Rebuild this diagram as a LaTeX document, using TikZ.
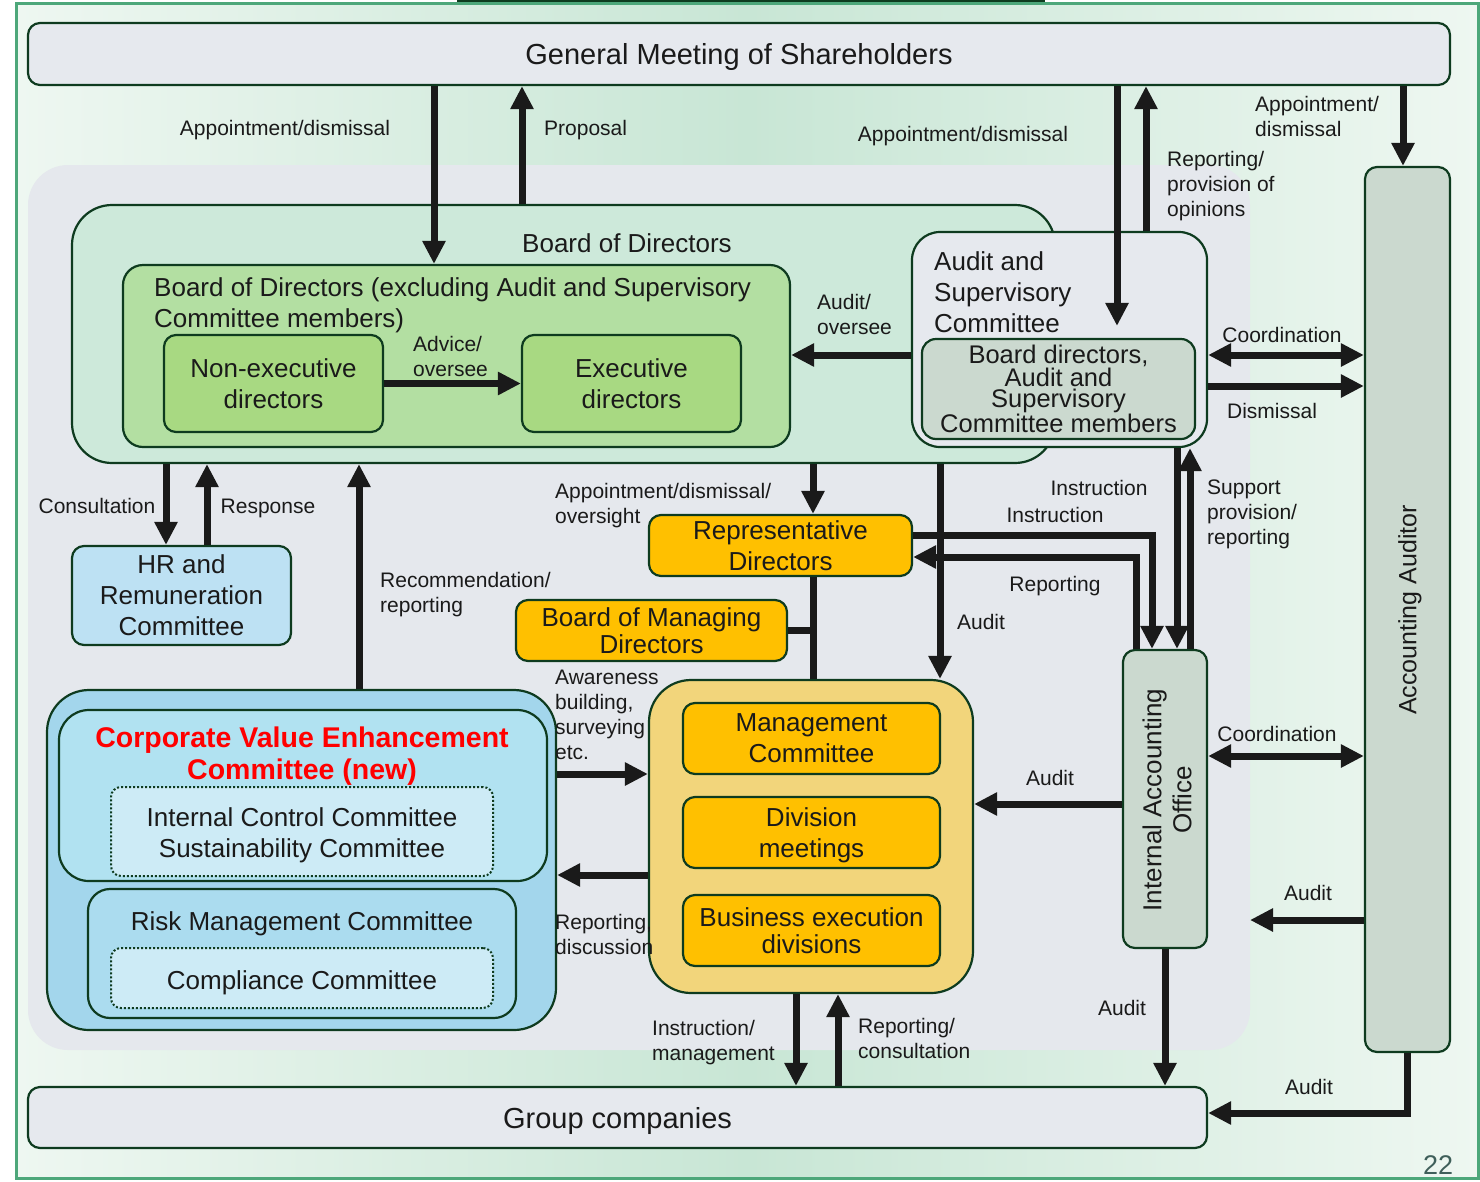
\documentclass[tikz,border=0pt]{standalone}
\usepackage{fontspec}
\setmainfont{Liberation Sans}
\usetikzlibrary{arrows.meta}

\definecolor{bgedge}{HTML}{EEF7F1}
\definecolor{bgmid}{HTML}{C8E6D5}
\definecolor{framegreen}{HTML}{4DA77A}
\definecolor{boxline}{HTML}{0E3B1F}
\definecolor{greyarea}{HTML}{E5E8ED}
\definecolor{greybox}{HTML}{E6E9EE}
\definecolor{bodfill}{HTML}{CDE9DA}
\definecolor{bodxfill}{HTML}{B3DFA2}
\definecolor{dirfill}{HTML}{A8D982}
\definecolor{sagefill}{HTML}{CBD9CF}
\definecolor{hrfill}{HTML}{BDE1F3}
\definecolor{cvofill}{HTML}{A3D6EC}
\definecolor{cvtfill}{HTML}{B1E2F1}
\definecolor{dotfill}{HTML}{CDEBF6}
\definecolor{rmfill}{HTML}{ABDCEF}
\definecolor{orangefill}{HTML}{FFC000}
\definecolor{mgofill}{HTML}{F2D57B}
\definecolor{arrowc}{HTML}{1A1A1A}
\definecolor{textc}{HTML}{1A1A1A}
\definecolor{pagec}{HTML}{3F5F5A}

\newcommand{\bxfont}{\fontsize{26}{31}\selectfont}
\newcommand{\lbfont}{\fontsize{21}{25}\selectfont}
\newcommand{\gmfont}{\fontsize{29}{34}\selectfont}

\tikzset{
  box/.style={draw=boxline, line width=2.2pt, rounded corners=12pt, inner sep=2pt, align=center, font=\bxfont, text=textc},
  dotbox/.style={box, line width=2pt, dotted, rounded corners=10pt, fill=dotfill},
  arr/.style={draw=arrowc, line width=7pt, -{Triangle[width=22pt,length=23pt]}},
  dblarr/.style={draw=arrowc, line width=7pt, {Triangle[width=22pt,length=23pt]}-{Triangle[width=22pt,length=23pt]}},
  link/.style={draw=arrowc, line width=7pt},
  lbl/.style={font=\lbfont, align=left, inner sep=0pt, text=textc},
  ttl/.style={font=\bxfont, align=left, inner sep=0pt, text=textc},
}

\begin{document}
\begin{tikzpicture}[x=1pt,y=-1pt]
            \useasboundingbox (0,0) rectangle (1480,1181);
            \shade[left color=bgedge, right color=bgedge, middle color=bgmid] (16,3) rectangle (1478,1178);
            \draw[framegreen, line width=3pt] (16,3) rectangle (1478,1178);
            \fill[boxline] (457,0) rectangle (1045,2);
            \fill[greyarea, rounded corners=40pt] (28,165) rectangle (1250,1050);

            \node[box, fill=greybox, text depth=0pt, minimum width=1422pt, minimum height=62pt, font=\gmfont] (gm) at (739,54) {General Meeting of Shareholders};
            \node[box, fill=greybox, text depth=0pt, minimum width=1179pt, minimum height=61pt, font=\gmfont] (grp) at (617.5,1117.5) {Group companies};

            \node[box, fill=bodfill, rounded corners=40pt, minimum width=983pt, minimum height=258pt] (bod) at (563.5,334) {};
            \node[ttl] (bodt) at (627,243) {Board of Directors};
            \node[box, fill=bodxfill, rounded corners=20pt, minimum width=667pt, minimum height=182pt] (bodx) at (456.5,356) {};
            \node[ttl, anchor=north west] (bodxt) at (154,277) {Board of Directors (excluding Audit and Supervisory\\Committee members)};
            \node[box, fill=dirfill, minimum width=219pt, minimum height=97pt] (ned) at (273.5,383.5) {Non-executive\\directors};
            \node[box, fill=dirfill, minimum width=219pt, minimum height=97pt] (exd) at (631.5,383.5) {Executive\\directors};

            \node[box, fill=greybox, rounded corners=28pt, minimum width=295pt, minimum height=215pt] (asc) at (1059.5,339.5) {};
            \node[ttl, anchor=north west] (asct) at (934,251) {Audit and\\Supervisory\\Committee};
            \node[box, fill=sagefill, rounded corners=14pt, inner sep=0pt, minimum width=273pt, minimum height=100pt, font=\fontsize{25.5}{21.5}\selectfont] (ascm) at (1058.5,389) {Board directors,\\Audit and\\Supervisory\\Committee members};

            \node[box, fill=sagefill, minimum width=85pt, minimum height=885pt] (aud) at (1407.5,609.5) {};
            \node[ttl, rotate=90, font=\fontsize{25}{30}\selectfont] (audt) at (1410,610) {Accounting Auditor};

            \node[box, fill=hrfill, minimum width=219pt, minimum height=99pt] (hr) at (181.5,595.5) {HR and\\Remuneration\\Committee};

            \node[box, fill=orangefill, minimum width=263pt, minimum height=61pt] (rep) at (780.5,545.5) {Representative\\Directors};
            \node[box, fill=orangefill, minimum width=271pt, minimum height=61pt, font=\fontsize{26}{27}\selectfont] (bmd) at (651.5,630.5) {Board of Managing\\Directors};

            \node[box, fill=mgofill, rounded corners=42pt, minimum width=324pt, minimum height=313pt] (mgo) at (811,836.5) {};
            \node[box, fill=orangefill, text depth=0pt, minimum width=257pt, minimum height=71pt] (mc) at (811.5,738.5) {Management\\Committee};
            \node[box, fill=orangefill, text depth=0pt, minimum width=257pt, minimum height=71pt] (dm) at (811.5,832.5) {Division\\meetings};
            \node[box, fill=orangefill, text depth=0pt, minimum width=257pt, minimum height=71pt, font=\fontsize{26}{27}\selectfont] (bed) at (811.5,930.5) {Business execution\\divisions};

            \node[box, fill=sagefill, minimum width=84pt, minimum height=298pt] (iao) at (1165,799) {};
            \node[ttl, rotate=90, align=center, font=\fontsize{26}{30}\selectfont] (iaot) at (1167,800) {Internal Accounting\\Office};

            \node[box, fill=cvofill, rounded corners=42pt, minimum width=509pt, minimum height=340pt] (cvo) at (301.5,860) {};
            \node[box, fill=cvtfill, rounded corners=30pt, minimum width=488pt, minimum height=171pt] (cvt) at (303,795.5) {};
            \node[ttl, align=center, text=red, font=\fontsize{28.5}{32}\selectfont\bfseries] (cvtt) at (302,756) {Corporate Value Enhancement\\Committee (new)};
            \node[dotbox, minimum width=382pt, minimum height=89pt] (icd) at (302,831.5) {};
            \node[ttl, align=center] (icdt) at (302,835) {Internal Control Committee\\Sustainability Committee};
            \node[box, fill=rmfill, rounded corners=22pt, minimum width=428pt, minimum height=129pt] (rmc) at (302,953.5) {};
            \node[ttl] (rmct) at (302,924) {Risk Management Committee};
            \node[dotbox, minimum width=382pt, minimum height=60pt] (ccd) at (302,978) {};
            \node[ttl] (ccdt) at (302,983) {Compliance Committee};

            \coordinate (audfree) at (1250,920);

            \draw[arr] (434,0 |- gm.south) -- (434,0 |- bodx.north);
            \draw[arr] (522,0 |- bod.north) -- (522,0 |- gm.south);
            \draw[arr, shorten >=12pt] (1117,0 |- gm.south) -- (1117,0 |- ascm.north);
            \draw[arr] (1146,0 |- asc.north) -- (1146,0 |- gm.south);
            \draw[arr] (1403,0 |- gm.south) -- (1403,0 |- aud.north);
            \draw[arr] (asc.west |- 0,355) -- (bodx.east |- 0,355);
            \draw[arr] (ned.east) -- (exd.west);
            \draw[dblarr] (asc.east |- 0,355) -- (aud.west |- 0,355);
            \draw[arr] (asc.east |- 0,386) -- (aud.west |- 0,386);
            \draw[arr] (166,0 |- bod.south) -- (166,0 |- hr.north);
            \draw[arr] (207,0 |- hr.north) -- (207,0 |- bod.south);
            \draw[arr] (359,0 |- cvo.north) -- (359,0 |- bod.south);
            \draw[arr] (813,0 |- bod.south) -- (813,0 |- rep.north);
            \draw[link] (813,0 |- rep.south) -- (813,0 |- mgo.north);
            \draw[link] (bmd.east) -- (813,0 |- bmd.east);
            \draw[arr] (940,0 |- bod.south) -- (940,0 |- mgo.north);
            \draw[arr] (rep.east |- 0,535) -- (1152,535) -- (1152,0 |- iao.north);
            \draw[arr] (1136,0 |- iao.north) -- (1136,557) -- (rep.east |- 0,557);
            \draw[arr] (1177,0 |- asc.south) -- (1177,0 |- iao.north);
            \draw[arr] (1190,0 |- iao.north) -- (1190,0 |- asc.south);
            \draw[dblarr] (iao.east |- 0,756) -- (aud.west |- 0,756);
            \draw[arr] (iao.west |- 0,804) -- (mgo.east |- 0,804);
            \draw[arr] (aud.west |- audfree) -- (audfree);
            \draw[arr] (iao.south) -- (iao.south |- grp.north);
            \draw[arr] (aud.south) -- (aud.south |- 0,1113) -- (grp.east |- 0,1113);
            \draw[arr] (796,0 |- mgo.south) -- (796,0 |- grp.north);
            \draw[arr] (838,0 |- grp.north) -- (838,0 |- mgo.south);
            \draw[arr] (cvo.east |- 0,774) -- (mgo.west |- 0,774);
            \draw[arr] (mgo.west |- 0,875) -- (cvo.east |- 0,875);

            \node[lbl] (l1) at (285,130) {Appointment/dismissal};
            \node[lbl, anchor=west] (l2) at (544,130) {Proposal};
            \node[lbl] (l3) at (963,136) {Appointment/dismissal};
            \node[lbl, anchor=north west] (l4) at (1167,151) {Reporting/\\provision of\\opinions};
            \node[lbl, anchor=north west] (l5) at (1255,96) {Appointment/\\dismissal};
            \node[lbl, anchor=north west] (l6) at (817,294) {Audit/\\oversee};
            \node[lbl, anchor=north west] (l7) at (413,336) {Advice/\\oversee};
            \node[lbl] (l8) at (1282,335) {Coordination};
            \node[lbl] (l9) at (1272,411) {Dismissal};
            \node[lbl] (l10) at (97,506) {Consultation};
            \node[lbl] (l11) at (268,508) {Response};
            \node[lbl, anchor=north west] (l12) at (380,572) {Recommendation/\\reporting};
            \node[lbl, anchor=north west] (l13) at (555,483) {Appointment/dismissal/\\oversight};
            \node[lbl] (l14) at (1099,488) {Instruction};
            \node[lbl] (l15) at (1055,515) {Instruction};
            \node[lbl, anchor=north west] (l16) at (1207,480) {Support\\provision/\\reporting};
            \node[lbl] (l17) at (1055,586) {Reporting};
            \node[lbl] (l18) at (981,622) {Audit};
            \node[lbl, anchor=north west] (l19) at (555,670) {Awareness\\building,\\surveying\\etc.};
            \node[lbl] (l20) at (1277,734) {Coordination};
            \node[lbl] (l21) at (1050,778) {Audit};
            \node[lbl] (l22) at (1308,893) {Audit};
            \node[lbl, anchor=north west] (l23) at (555,914) {Reporting,\\discussion};
            \node[lbl] (l24) at (1122,1008) {Audit};
            \node[lbl, anchor=north west] (l25) at (652,1020) {Instruction/\\management};
            \node[lbl, anchor=north west] (l26) at (858,1018) {Reporting/\\consultation};
            \node[lbl] (l27) at (1309,1087) {Audit};
            \node[font=\fontsize{27}{30}\selectfont, text=pagec] (pgno) at (1438,1165) {22};
\end{tikzpicture}
\end{document}
